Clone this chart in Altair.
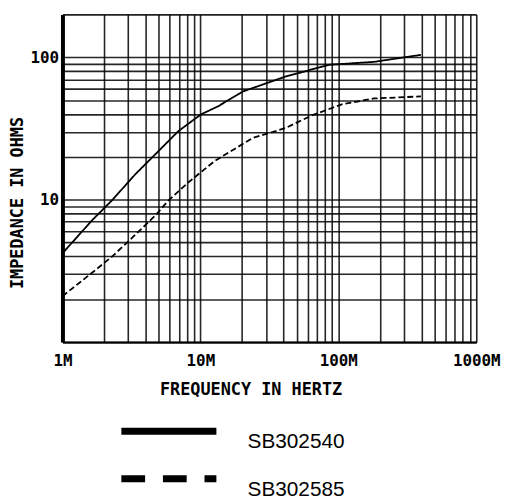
import altair as alt
import pandas as pd

# ---- data ----
series_names = ["SB302540", "SB302585"]

freq_a = [1.0e6, 1.64e6, 2.28e6, 3.40e6, 4.73e6, 6.92e6, 1.01e7, 1.34e7, 2.03e7, 4.12e7, 8.53e7, 1.82e8, 3.97e8]
imp_a = [4.2, 7.17, 9.87, 15.2, 20.9, 30.3, 39.7, 45.2, 57.5, 73.1, 88.5, 92.9, 104]

freq_b = [1.0e6, 1.64e6, 2.28e6, 3.18e6, 4.73e6, 5.86e6, 8.16e6, 1.27e7, 2.39e7, 4.12e7, 6.44e7, 1.06e8, 1.82e8, 3.97e8]
imp_b = [2.1, 3.07, 3.97, 5.37, 7.77, 9.87, 13.2, 18.7, 27.1, 31.8, 39.1, 46.7, 51.4, 53.1]

x_label_values = [1000000, 10000000, 100000000, 1000000000]
x_label_text = ["1M", "10M", "100M", "1000M"]
y_label_values = [10, 100]
y_label_text = ["10", "100"]

x_grid = [k * 10 ** e for e in (6, 7, 8) for k in range(1, 10)] + [1000000000]
y_grid = [k * 10 ** e for e in (0, 1) for k in range(1, 10)] + [100, 200]

df = pd.DataFrame({
    "freq": freq_a + freq_b,
    "imp": imp_a + imp_b,
    "series": [series_names[0]] * len(freq_a) + [series_names[1]] * len(freq_b),
})


def label_expr(values, texts):
    parts = [f"datum.value == {v} ? '{t}'" for v, t in zip(values, texts)]
    return " : ".join(parts) + " : ''"


FONT = "DejaVu Sans Mono"

x_enc = alt.X(
    "freq:Q",
    scale=alt.Scale(type="log", domain=[1e6, 1e9], nice=False),
    axis=alt.Axis(
        values=x_grid,
        labelExpr=label_expr(x_label_values, x_label_text),
        title="FREQUENCY IN HERTZ",
        ticks=False,
        tickSize=0,
        labelPadding=11,
        labelOverlap=False,
        labelFlush=False,
        labelBound=False,
        labelFont=FONT,
        labelFontSize=16,
        labelFontWeight="bold",
        labelColor="black",
        titleFont=FONT,
        titleFontSize=17,
        titleFontWeight="bold",
        titleColor="black",
        titleX=190,
        titleY=48,
        titleBaseline="middle",
        titleAlign="center",
        grid=True,
        gridColor="black",
        gridWidth=1.6,
        gridOpacity=0.85,
        domainColor="black",
        domainWidth=2,
    ),
)

y_enc = alt.Y(
    "imp:Q",
    scale=alt.Scale(type="log", domain=[1, 200], nice=False),
    axis=alt.Axis(
        values=y_grid,
        labelExpr=label_expr(y_label_values, y_label_text),
        title="IMPEDANCE IN OHMS",
        ticks=False,
        tickSize=0,
        labelPadding=4,
        labelOverlap=False,
        labelFlush=False,
        labelBound=False,
        labelFont=FONT,
        labelFontSize=16,
        labelFontWeight="bold",
        labelColor="black",
        titleFont=FONT,
        titleFontSize=17,
        titleFontWeight="bold",
        titleColor="black",
        titleX=-45,
        titleY=190,
        titleAngle=270,
        titleBaseline="middle",
        titleAlign="center",
        grid=True,
        gridColor="black",
        gridWidth=1.6,
        gridOpacity=0.85,
        domainColor="black",
        domainWidth=4,
    ),
)

base = alt.Chart(df)

curves = base.mark_line(color="black", strokeWidth=1.8).encode(
    x=x_enc,
    y=y_enc,
    strokeDash=alt.StrokeDash(
        "series:N",
        scale=alt.Scale(domain=series_names, range=[[1, 0], [6, 3]]),
        legend=None,
    ),
)

legend_layer = base.mark_line(color="black", strokeWidth=7).encode(
    x=alt.X("freq:Q"),
    y=alt.Y("imp:Q"),
    strokeDash=alt.StrokeDash(
        "series:N",
        scale=alt.Scale(domain=series_names, range=[[1, 0], [24, 18]]),
        legend=alt.Legend(
            title=None,
            orient="none",
            legendX=56,
            legendY=411,
            direction="vertical",
            padding=0,
            symbolType="stroke",
            symbolSize=9216,
            symbolStrokeWidth=7,
            symbolStrokeColor="black",
            symbolOpacity=1,
            clipHeight=20,
            rowPadding=17,
            labelOffset=28,
            labelFont="Liberation Sans",
            labelFontSize=21,
            labelColor="black",
            labelBaseline="top",
            labelLimit=0,
        ),
    ),
).transform_filter("datum.imp < 0")

chart = alt.layer(curves, legend_layer).resolve_scale(
    strokeDash="independent"
).resolve_legend(
    strokeDash="independent"
).properties(
    width=418,
    height=331,
    autosize=alt.AutoSizeParams(type="none"),
    padding={"left": 55, "top": 4, "right": 26, "bottom": 154},
).configure_view(
    stroke="black",
    strokeWidth=2,
).configure(
    background="white",
)

chart.save("out.html", embed_options={"renderer": "svg", "actions": False})
